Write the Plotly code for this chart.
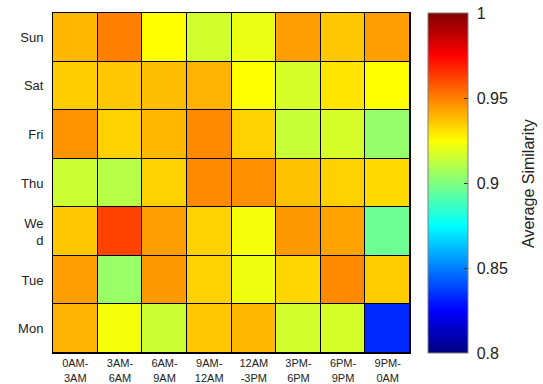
import plotly.graph_objects as go

time_slots = ["0AM-<br>3AM", "3AM-<br>6AM", "6AM-<br>9AM", "9AM-<br>12AM",
              "12AM<br>-3PM", "3PM-<br>6PM", "6PM-<br>9PM", "9PM-<br>0AM"]
days = ["Mon", "Tue", "We<br>d", "Thu", "Fri", "Sat", "Sun"]

mon = [0.940, 0.923, 0.915, 0.936, 0.939, 0.916, 0.917, 0.833]
tue = [0.944, 0.905, 0.945, 0.934, 0.922, 0.933, 0.948, 0.935]
wed = [0.936, 0.962, 0.944, 0.934, 0.923, 0.945, 0.943, 0.896]
thu = [0.915, 0.911, 0.934, 0.948, 0.947, 0.937, 0.934, 0.932]
fri = [0.946, 0.934, 0.939, 0.948, 0.934, 0.914, 0.917, 0.904]
sat = [0.935, 0.936, 0.938, 0.940, 0.925, 0.917, 0.930, 0.925]
sun = [0.939, 0.950, 0.925, 0.916, 0.921, 0.944, 0.936, 0.944]

z = [mon, tue, wed, thu, fri, sat, sun]

cbar_ticks = [0.8, 0.85, 0.9, 0.95, 1.0]
cbar_labels = [" 0.8", " 0.85", " 0.9", " 0.95", " 1"]

jet = [
    [0.0, "rgb(0,0,128)"],
    [0.125, "rgb(0,0,255)"],
    [0.375, "rgb(0,255,255)"],
    [0.625, "rgb(255,255,0)"],
    [0.875, "rgb(255,0,0)"],
    [1.0, "rgb(128,0,0)"],
]

FONT = "Liberation Sans, Arial"

fig = go.Figure(go.Heatmap(
    z=z, x=list(range(8)), y=list(range(7)),
    colorscale=jet, zmin=0.8, zmax=1.0,
    xgap=1, ygap=1,
    colorbar=dict(
        x=1.05, xanchor="left", xpad=0, ypad=0,
        y=0.5, yanchor="middle", len=1.0, lenmode="fraction",
        thickness=40, thicknessmode="pixels",
        outlinecolor="#808080", outlinewidth=1,
        tickvals=cbar_ticks, ticktext=cbar_labels,
        ticks="inside", ticklen=4, tickcolor="#333",
        ticklabeloverflow="allow",
        tickfont=dict(size=16, color="#222", family=FONT),
    ),
))

fig.update_xaxes(
    tickvals=list(range(8)), ticktext=time_slots,
    range=[-0.5, 7.5], showgrid=False, zeroline=False,
    showline=True, linecolor="black", linewidth=1, mirror=True,
    ticks="", automargin=False,
    tickfont=dict(size=11, color="#222", family=FONT),
)
fig.update_yaxes(
    tickvals=list(range(7)), ticktext=days,
    range=[-0.5, 6.5], showgrid=False, zeroline=False,
    showline=True, linecolor="black", linewidth=1, mirror=True,
    ticks="", automargin=False, ticklabelstandoff=6,
    tickfont=dict(size=13, color="#222", family=FONT),
)

fig.add_annotation(
    text="Average Similarity", textangle=-90,
    xref="paper", yref="paper", x=1.3305, y=0.5,
    xanchor="center", yanchor="middle", showarrow=False,
    font=dict(size=16, color="#222", family=FONT),
)

fig.update_layout(
    width=543, height=384,
    margin=dict(l=53, r=133, t=13, b=31, autoexpand=False),
    plot_bgcolor="black", paper_bgcolor="white",
)

# remove the browser's default 8px body margin so the figure fills the window
fig.write_html("out.html",
               config={"displayModeBar": False},
               post_script="document.body.style.margin='0';document.body.style.overflow='hidden';")
